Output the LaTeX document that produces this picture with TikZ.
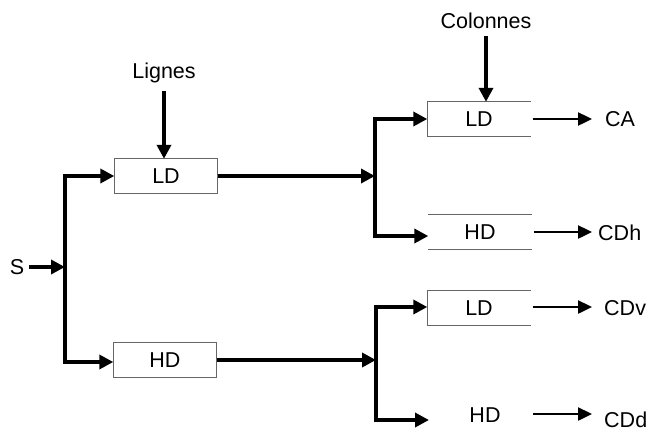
\documentclass[tikz,border=0pt]{standalone}
\usepackage{fontspec}
\setmainfont{Liberation Sans}
\usetikzlibrary{arrows.meta}
\begin{document}
\begin{tikzpicture}[x=1pt,y=-1pt,
  txt/.style={font=\fontsize{21.5}{24}\selectfont, inner sep=0pt},
  boxnode/.style={txt, minimum width=103pt, minimum height=34pt},
  boxline/.style={draw=black!60, line width=1pt},
  thick line/.style={line width=3.5pt, line cap=rect},
  arr/.style={line width=3.5pt, -{Triangle[length=14pt,width=14pt]}},
  arrthin/.style={line width=2.4pt, -{Triangle[length=14pt,width=13pt]}}]
\useasboundingbox (0,0) rectangle (652,432);

% nodes
\node[txt] (S) at (17,267) {S};
\node[boxnode] (ld1) at (166,176) {LD};
\node[boxnode] (hd1) at (165,360) {HD};
\node[txt] (lignes) at (164,73) {Lignes};
\node[boxnode] (ld2) at (479,119) {LD};
\node[boxnode] (hd2) at (480,232) {HD};
\node[boxnode] (ld3) at (479,308) {LD};
\node[boxnode] (hd3) at (485,415) {HD};
\node[txt] (col) at (486,21) {Colonnes};
\node[txt, anchor=west] (CA) at (605,119) {CA};
\node[txt, anchor=west] (CDh) at (598,233) {CDh};
\node[txt, anchor=west] (CDv) at (604,308) {CDv};
\node[txt, anchor=west] (CDd) at (604,420) {CDd};

% box outlines
\draw[boxline] (ld1.south west) rectangle (ld1.north east);
\draw[boxline] (hd1.south west) rectangle (hd1.north east);
\draw[boxline] (ld2.north east) -- (ld2.north west) -- (ld2.south west) -- (ld2.south east);
\draw[boxline] (hd2.north east) -- (hd2.north west);
\draw[boxline] (hd2.south east) -- (hd2.south west);
\draw[boxline] (ld3.north east) -- (ld3.north west) -- (ld3.south west) -- (ld3.south east);

% junction coordinates
\coordinate (v1) at (65,267);
\coordinate (v2) at (375,176);
\coordinate (v3) at (376,360);

% left splitter
\draw[arr] ([xshift=5pt]S.east) -- (v1);
\draw[thick line] (65,176) -- (65,362);
\draw[arr] (65,176) -- (ld1.west);
\draw[arr] (65,362) -- (hd1.west |- 0,362);

% inputs from top
\draw[arr] ([yshift=-8pt]lignes.south) -- (lignes.south |- ld1.north);
\draw[arr] ([yshift=-7pt]col.south) -- (col.south |- ld2.north);

% middle
\draw[arr] (ld1.east) -- (v2);
\draw[arr] (hd1.east) -- (v3);
\draw[thick line] (375,119) -- (375,236);
\draw[thick line] (376,307) -- (376,420);
\draw[arr] (375,119) -- (ld2.west);
\draw[arr] (375,236) -- (hd2.west |- 0,236);
\draw[arr] (376,307) -- (ld3.west |- 0,307);
\draw[arr] (376,420) -- (429,420);

% outputs
\draw[arrthin] ([xshift=2pt]ld2.east) -- (592,119);
\draw[arrthin] ([xshift=2pt]hd2.east) -- (592,232);
\draw[arrthin] ([xshift=2pt]ld3.east |- 0,307) -- (592,307);
\draw[arrthin] (533,414) -- (592,414);
\end{tikzpicture}
\end{document}
